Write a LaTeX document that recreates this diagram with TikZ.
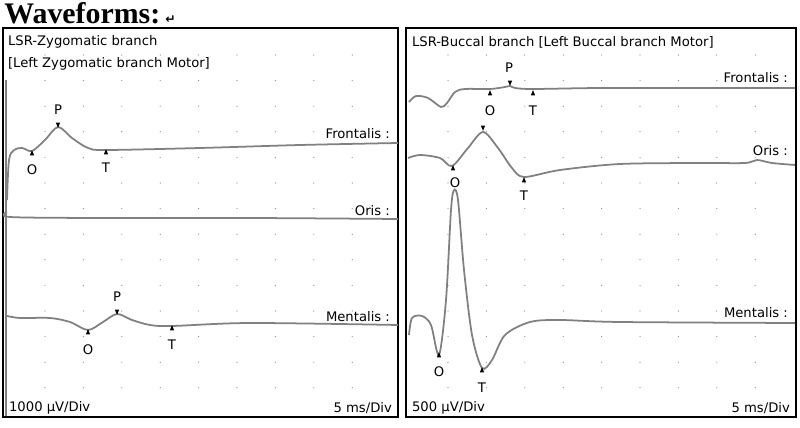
\documentclass[tikz,border=0pt]{standalone}
\usepackage{fontspec}
\setmainfont{Liberation Serif}
\setsansfont{DejaVu Sans}
\usetikzlibrary{positioning}
\tikzset{
	trace/.style = {draw=gray, line width=1pt},
	lbl/.style = {font=\sffamily\fontsize{7.5}{9}\selectfont, inner sep=1pt},
	mk/.style = {fill=black, isosceles triangle, shape border rotate=90, minimum size=2.5pt, inner sep=0pt},
	mkdn/.style = {mk, shape border rotate=-90},
	panel/.style = {draw=black, line width=1.2pt},
}
\usetikzlibrary{shapes.geometric}
\begin{document}
\begin{tikzpicture}[x=0.02cm,y=-0.02cm]
		\useasboundingbox (0,0) rectangle (800,428);

		\node[anchor=west,inner sep=0pt,font=\bfseries\fontsize{17}{19}\selectfont] at (4,13) (title) {Waveforms:\,{\sffamily\fontsize{7}{8}\selectfont ↵}};

		\draw[panel] (3,28) rectangle (398,417);
		\draw[panel] (406,28) rectangle (796,417);

		% grid dots
		\foreach \y in {0,...,13} {
			\foreach \x in {0,...,8} {
				\fill[gray] (45+38.4*\x,55+25.6*\y) circle (0.6);
				\fill[gray] (448+38.4*\x,55+25.6*\y) circle (0.6);
			}
		}

		% left panel
		\node[lbl,anchor=west] at (6,42) (ltitle1) {LSR-Zygomatic branch};
		\node[lbl,anchor=west] at (6,64) (ltitle2) {[Left Zygomatic branch Motor]};
		\draw[trace] (6,80) -- (6,416);
		\draw[trace] plot[smooth] coordinates {(7,200) (9,160) (14,150) (22,148) (32,151) (45,140) (58,127) (72,138) (88,148) (106,150) (200,148) (300,145) (398,143)};
		\draw[trace] plot[smooth] coordinates {(7,212) (10,217) (100,218) (250,218) (398,219)};
		\draw[trace] plot[smooth] coordinates {(7,316) (20,318) (50,318) (70,322) (88,330) (103,322) (117,314) (132,320) (150,325) (172,326) (250,323) (398,325)};
		\node[lbl,anchor=east] at (392,134) (lfrontalis) {Frontalis :};
		\node[lbl,anchor=east] at (392,211) (loris) {Oris :};
		\node[lbl,anchor=east] at (392,317) (lmentalis) {Mentalis :};
		\node[mk] at (32,154) (lfo) {}; \node[lbl] at (32,170) {O};
		\node[mkdn] at (58,124) (lfp) {}; \node[lbl] at (58,110) {P};
		\node[mk] at (106,153) (lft) {}; \node[lbl] at (106,168) {T};
		\node[mk] at (88,333) (lmo) {}; \node[lbl] at (88,350) {O};
		\node[mkdn] at (117,311) (lmp) {}; \node[lbl] at (117,297) {P};
		\node[mk] at (172,329) (lmt) {}; \node[lbl] at (172,345) {T};
		\node[lbl,anchor=west] at (7,408) (lvdiv) {1000 µV/Div};
		\node[lbl,anchor=east] at (394,408) (ltdiv) {5 ms/Div};

		% right panel
		\node[lbl,anchor=west] at (410,42) (rtitle) {LSR-Buccal branch [Left Buccal branch Motor]};
		\draw[trace] plot[smooth] coordinates {(409,102) (416,96) (428,98) (441,107) (447,103) (455,92) (465,89) (490,89) (505,87) (510,86) (515,88) (533,89) (600,88) (700,88) (795,88)};
		\draw[trace] plot[smooth] coordinates {(408,158) (420,155) (440,158) (452,166) (468,148) (483,132) (498,148) (512,168) (524,177) (560,170) (620,164) (700,163) (745,163) (757,160) (772,163) (795,165)};
		\draw[trace] plot[smooth] coordinates {(409,335) (412,318) (422,316) (431,325) (439,355) (446,300) (451,210) (454,190) (458,200) (464,270) (472,335) (482,368) (492,360) (505,335) (530,322) (560,320) (620,322) (795,323)};
		\node[lbl,anchor=east] at (790,78) (rfrontalis) {Frontalis :};
		\node[lbl,anchor=east] at (790,151) (roris) {Oris :};
		\node[lbl,anchor=east] at (790,313) (rmentalis) {Mentalis :};
		\node[mk] at (490,94) (rfo) {}; \node[lbl] at (490,111) {O};
		\node[mkdn] at (510,82) (rfp) {}; \node[lbl] at (509,68) {P};
		\node[mk] at (533,94) (rft) {}; \node[lbl] at (533,111) {T};
		\node[mk] at (453,169) (roo) {}; \node[lbl] at (455,183) {O};
		\node[mkdn] at (483,127) (rop) {};
		\node[mk] at (524,181) (rot) {}; \node[lbl] at (524,196) {T};
		\node[mk] at (439,356) (rmo) {}; \node[lbl] at (439,372) {O};
		\node[mk] at (482,371) (rmt) {}; \node[lbl] at (482,388) {T};
		\node[lbl,anchor=west] at (410,408) (rvdiv) {500 µV/Div};
		\node[lbl,anchor=east] at (792,408) (rtdiv) {5 ms/Div};
	\end{tikzpicture}
\end{document}
